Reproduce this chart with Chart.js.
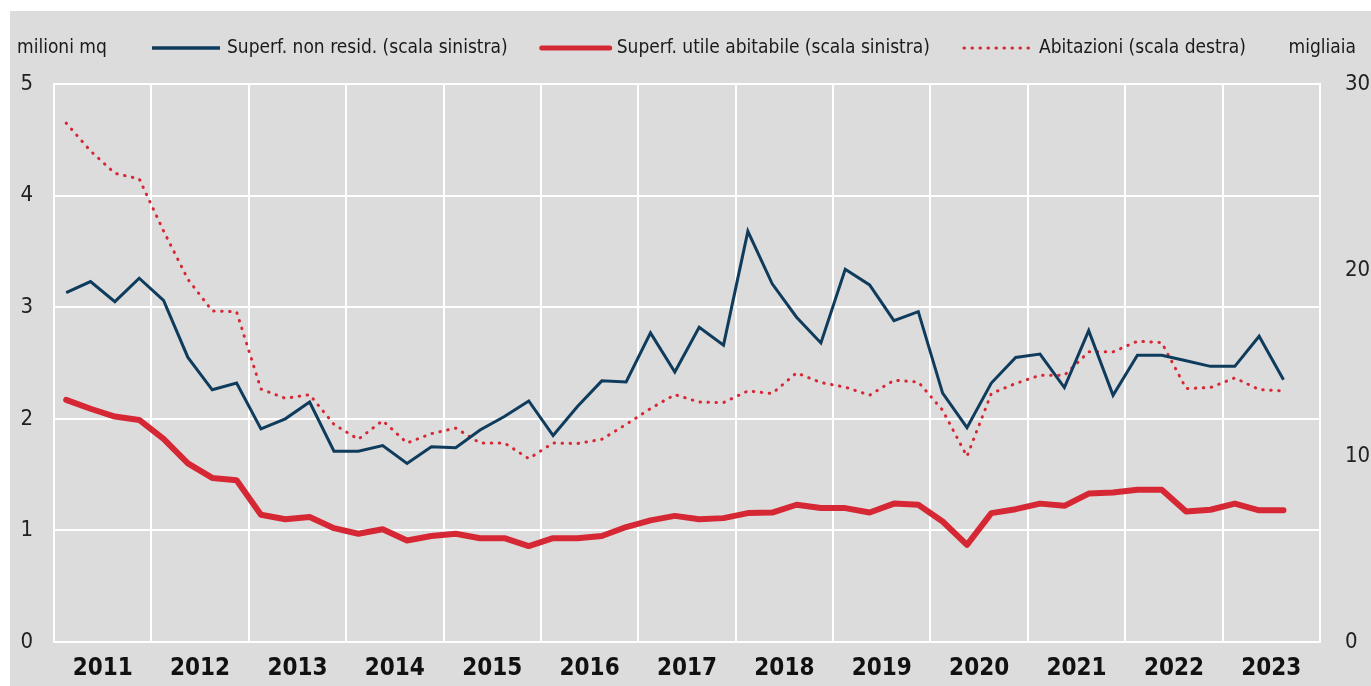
<!DOCTYPE html>
<html>
<head>
  <title>Superfici e abitazioni</title>
  <script src="https://cdn.jsdelivr.net/npm/chart.js"></script>
<style>
body {
  margin: 0;
  padding: 0;
  background: #ffffff;
}
.chart-box {
  width: 1371px;
  height: 686px;
}
</style>
</head>
<body>

  <div class="chart-box">
    <canvas id="permitChart" width="1371" height="686"></canvas>
  </div>

  <script>
    // years shown on the axis, data is quarterly (2011 Q1 - 2023 Q3)
    const years = ['2011', '2012', '2013', '2014', '2015', '2016', '2017', '2018', '2019', '2020', '2021', '2022', '2023'];
    const quarters = [];
    years.forEach(y => ['T1', 'T2', 'T3', 'T4'].forEach(q => quarters.push(y + q)));

    // milioni mq (scala sinistra)
    const supNonResid = [3.13, 3.23, 3.05, 3.26, 3.06, 2.55, 2.26, 2.32, 1.91, 2.00,
      2.15, 1.71, 1.71, 1.76, 1.60, 1.75, 1.74, 1.90, 2.02, 2.16,
      1.85, 2.11, 2.34, 2.33, 2.77, 2.42, 2.82, 2.66, 3.68, 3.21,
      2.91, 2.68, 3.34, 3.20, 2.88, 2.96, 2.23, 1.92, 2.32, 2.55,
      2.58, 2.28, 2.79, 2.21, 2.57, 2.57, 2.52, 2.47, 2.47, 2.74,
      2.35];
    const supAbitabile = [2.17, 2.09, 2.02, 1.99, 1.82, 1.60, 1.47, 1.45, 1.14, 1.10,
      1.12, 1.02, 0.97, 1.01, 0.91, 0.95, 0.97, 0.93, 0.93, 0.86,
      0.93, 0.93, 0.95, 1.03, 1.09, 1.13, 1.10, 1.11, 1.155, 1.16,
      1.23, 1.20, 1.20, 1.16, 1.24, 1.23, 1.08, 0.87, 1.155, 1.19,
      1.24, 1.22, 1.33, 1.34, 1.365, 1.365, 1.17, 1.185, 1.24, 1.18,
      1.18];
    // migliaia (scala destra)
    const abitazioni = [27.9, 26.4, 25.2, 24.9, 22.1, 19.5, 17.8, 17.75, 13.6, 13.1,
      13.3, 11.7, 10.9, 11.9, 10.7, 11.2, 11.5, 10.7, 10.7, 9.86,
      10.7, 10.67, 10.9, 11.7, 12.55, 13.3, 12.9, 12.87, 13.5, 13.36,
      14.47, 13.95, 13.7, 13.27, 14.07, 13.98, 12.46, 9.98, 13.36, 13.9,
      14.34, 14.34, 15.6, 15.6, 16.17, 16.1, 13.63, 13.68, 14.2, 13.57,
      13.5];

    const leftTicks = [0, 1, 2, 3, 4, 5];
    const rightTicks = [0, 10, 20, 30];

    const BLUE = '#0f3c5c';
    const RED = '#d62834';
    const GREY = '#dcdcdc';
    const FONT = "'Liberation Sans Narrow', 'Arial Narrow', 'DejaVu Sans Condensed', sans-serif";

    // grey panel, top legend and unit titles
    const frame = {
      id: 'frame',
      beforeDraw(chart) {
        const c = chart.ctx;
        c.save();
        c.fillStyle = '#ffffff';
        c.fillRect(0, 0, chart.width, chart.height);
        c.fillStyle = GREY;
        c.fillRect(10, 11, chart.width - 10, chart.height - 11);
        c.restore();
      },
      afterDraw(chart) {
        const c = chart.ctx;
        const yMid = 48;
        c.save();
        c.font = '19px ' + FONT;
        c.fillStyle = '#1a1a1a';
        c.textBaseline = 'middle';
        c.textAlign = 'left';
        c.fillText('milioni mq', 17, yMid);
        c.textAlign = 'right';
        c.fillText('migliaia', 1356, yMid);

        let x = 152;
        c.textAlign = 'left';
        chart.data.datasets.forEach(ds => {
          c.save();
          c.strokeStyle = ds.borderColor;
          c.lineWidth = ds.legendWidth;
          c.lineCap = ds.borderCapStyle || 'butt';
          c.setLineDash(ds.borderDash || []);
          c.beginPath();
          c.moveTo(x, yMid);
          c.lineTo(x + 68, yMid);
          c.stroke();
          c.restore();
          x += 68 + 7;
          c.fillText(ds.label, x, yMid);
          x += c.measureText(ds.label).width + 34;
        });
        c.restore();
      }
    };

    const ctx = document.getElementById('permitChart').getContext('2d');
    const permitChart = new Chart(ctx, {
      type: 'line',
      data: {
        labels: quarters,
        datasets: [
          {
            label: 'Superf. non resid. (scala sinistra)',
            data: supNonResid,
            borderColor: BLUE,
            backgroundColor: BLUE,
            borderWidth: 3,
            legendWidth: 3.5,
            pointRadius: 0,
            tension: 0,
            yAxisID: 'y'
          },
          {
            label: 'Superf. utile abitabile (scala sinistra)',
            data: supAbitabile,
            borderColor: RED,
            backgroundColor: RED,
            borderWidth: 6,
            legendWidth: 5,
            borderJoinStyle: 'round',
            borderCapStyle: 'round',
            pointRadius: 0,
            tension: 0,
            yAxisID: 'y'
          },
          {
            label: 'Abitazioni (scala destra)',
            data: abitazioni,
            borderColor: RED,
            backgroundColor: RED,
            borderWidth: 3,
            legendWidth: 3,
            borderDash: [0.5, 7.5],
            borderCapStyle: 'round',
            pointRadius: 0,
            tension: 0,
            yAxisID: 'y2'
          }
        ]
      },
      options: {
        responsive: false,
        animation: false,
        layout: {
          padding: { top: 84, bottom: 0, left: 0, right: 0 }
        },
        plugins: {
          legend: { display: false },
          tooltip: { enabled: false }
        },
        scales: {
          x: {
            type: 'category',
            display: false,
            offset: true
          },
          years: {
            type: 'category',
            labels: years,
            position: 'bottom',
            offset: true,
            afterFit(s) { s.height = 44; },
            grid: {
              offset: true,
              color: '#ffffff',
              lineWidth: 2,
              drawTicks: false
            },
            border: { color: '#ffffff', width: 2 },
            ticks: {
              color: '#111111',
              padding: 12,
              maxRotation: 0,
              autoSkip: false,
              font: { family: FONT, size: 24, weight: 'bold' }
            }
          },
          y: {
            position: 'left',
            min: 0,
            max: 5,
            afterFit(s) { s.width = 54; },
            afterBuildTicks(s) { s.ticks = leftTicks.map(v => ({ value: v })); },
            grid: {
              color: '#ffffff',
              lineWidth: 2,
              drawTicks: false
            },
            border: { color: '#ffffff', width: 2 },
            ticks: {
              color: '#222222',
              padding: 21,
              font: { family: FONT, size: 22 }
            }
          },
          y2: {
            position: 'right',
            min: 0,
            max: 30,
            afterFit(s) { s.width = 51; },
            afterBuildTicks(s) { s.ticks = rightTicks.map(v => ({ value: v })); },
            grid: {
              drawOnChartArea: false,
              drawTicks: false
            },
            border: { color: '#ffffff', width: 2 },
            ticks: {
              color: '#222222',
              padding: 25,
              font: { family: FONT, size: 22 }
            }
          }
        }
      },
      plugins: [frame]
    });
  </script>

</body>
</html>
